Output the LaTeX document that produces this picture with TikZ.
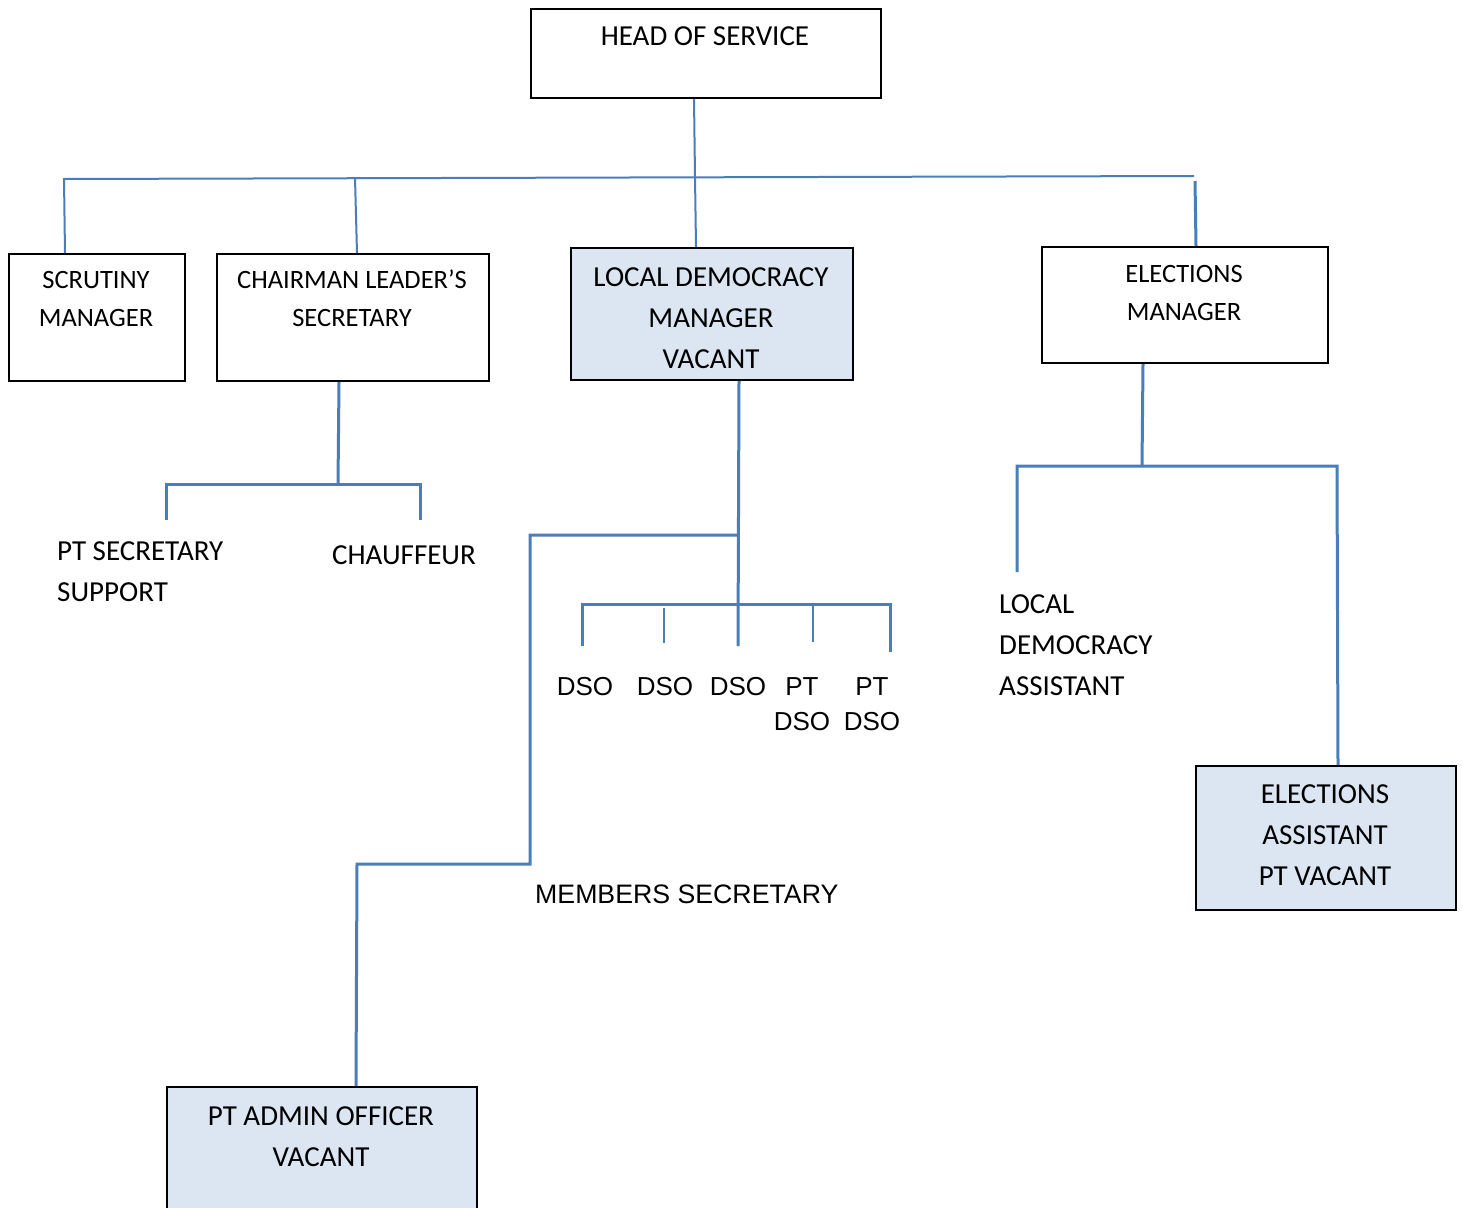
\documentclass[tikz,border=0pt]{standalone}
\usepackage{fontspec}
\setmainfont{Carlito}
\newfontfamily\arialf{Liberation Sans}
\definecolor{lnblue}{HTML}{4A7EBB}
\definecolor{boxfill}{HTML}{DCE6F2}
\begin{document}
\begin{tikzpicture}[x=1pt,y=-1pt,
  box/.style={draw=black, line width=2pt, inner sep=0pt, anchor=north west},
  vac/.style={box, fill=boxfill},
  conn/.style={draw=lnblue, line width=2pt},
  connb/.style={draw=lnblue, line width=3pt},
  big/.style={font=\fontsize{29}{41}\selectfont, align=center, anchor=base, inner sep=0pt},
  small/.style={font=\fontsize{26.5}{38}\selectfont, align=center, anchor=base, inner sep=0pt},
  ar/.style={font=\arialf\fontsize{26}{35}\selectfont, align=center, anchor=base, inner sep=0pt}]
\useasboundingbox (0,0) rectangle (1463,1207);
\fill[white] (0,0) rectangle (1463,1207);

% boxes
\node[box, minimum width=350pt, minimum height=89pt] (head) at (530,8) {};
\node[box, minimum width=176pt, minimum height=127pt] (scr) at (8,253) {};
\node[box, minimum width=272pt, minimum height=127pt] (chair) at (216,253) {};
\node[vac, minimum width=282pt, minimum height=132pt] (ldm) at (570,247) {};
\node[box, minimum width=286pt, minimum height=116pt] (elm) at (1041,246) {};
\node[vac, minimum width=260pt, minimum height=144pt] (ea) at (1195,765) {};
\node[vac, minimum width=310pt, minimum height=140pt] (pta) at (166,1086) {};

% box texts (anchor base = baseline of the last line)
\node[big] (headt) at (705,46) {HEAD OF SERVICE};
\node[small] (scrt) at (96,326.5) {SCRUTINY\\MANAGER};
\node[small] (chairt) at (352,326.5) {CHAIRMAN LEADER’S\\SECRETARY};
\node[big] (ldmt) at (711,368.3) {LOCAL DEMOCRACY\\MANAGER\\VACANT};
\node[small] (elmt) at (1184,320.5) {ELECTIONS\\MANAGER};
\node[big] (eat) at (1325,885.3) {ELECTIONS\\ASSISTANT\\PT VACANT};
\node[big] (ptat) at (321,1166.3) {PT ADMIN OFFICER\\VACANT};

% free texts
\node[big, anchor=base west, align=left] (pts) at (57,601.3) {PT SECRETARY\\SUPPORT};
\node[big] (chauf) at (404,564.3) {CHAUFFEUR};
\node[big, anchor=base west, align=left] (lda) at (999,695.3) {LOCAL\\DEMOCRACY\\ASSISTANT};
\node[ar, anchor=base west, font=\arialf\fontsize{26.7}{35}\selectfont] (mem) at (535,903.3) {MEMBERS SECRETARY};
\node[ar] (dso1) at (585,695.3) {DSO};
\node[ar] (dso2) at (665,695.3) {DSO};
\node[ar] (dso3) at (738,695.3) {DSO};
\node[ar] (dso4) at (802,730.3) {PT\\DSO};
\node[ar] (dso5) at (872,730.3) {PT\\DSO};

% junctions
\coordinate (jtop) at (695,177);
\coordinate (jl) at (64,179);
\coordinate (jr) at (1194,176);
\coordinate (jc) at (355,178);
\coordinate (jer) at (1195,181);

% top level connectors
\draw[conn] ([xshift=-12pt]head.south) -- (jtop) -- ([xshift=-16pt]ldm.north);
\draw[conn] ([xshift=-32pt]scr.north) -- (jl) -- (jr);
\draw[conn] ([xshift=4pt]chair.north) -- (jc);
\draw[connb] ([xshift=11pt]elm.north) -- (jer);

% chairman subtree
\coordinate (cj) at (338,484);
\coordinate (cl) at (166,484);
\coordinate (cr) at (420,484);
\coordinate (cle) at (166,520);
\coordinate (cre) at (420,520);
\draw[connb] ([xshift=-14pt]chair.south) -- (cj);
\draw[connb] (cle) -- (cl) -- (cr) -- (cre);

% local democracy subtree
\coordinate (lj) at (738,535);
\coordinate (lb) at (738,646);
\coordinate (m1) at (530,535);
\coordinate (m2) at (530,864);
\coordinate (m3) at (357,864);
\coordinate (d1) at (582,604);
\coordinate (d5) at (890,604);
\draw[connb] ([xshift=27pt]ldm.south) -- (lb);
\draw[connb] (lj) -- (m1) -- (m2) -- (m3) -- ([xshift=34pt]pta.north);
\draw[connb] (582,646) -- (d1) -- (d5) -- (890,652);
\draw[conn] (664,608) -- (664,643);
\draw[conn] (813,604) -- (813,642);

% elections subtree
\coordinate (ej) at (1142,466);
\coordinate (el) at (1017,466);
\coordinate (er) at (1337,466);
\draw[connb] ([xshift=-42pt]elm.south) -- (ej);
\draw[connb] (1017,572) -- (el) -- (er) -- ([xshift=12pt]ea.north);
\end{tikzpicture}
\end{document}
